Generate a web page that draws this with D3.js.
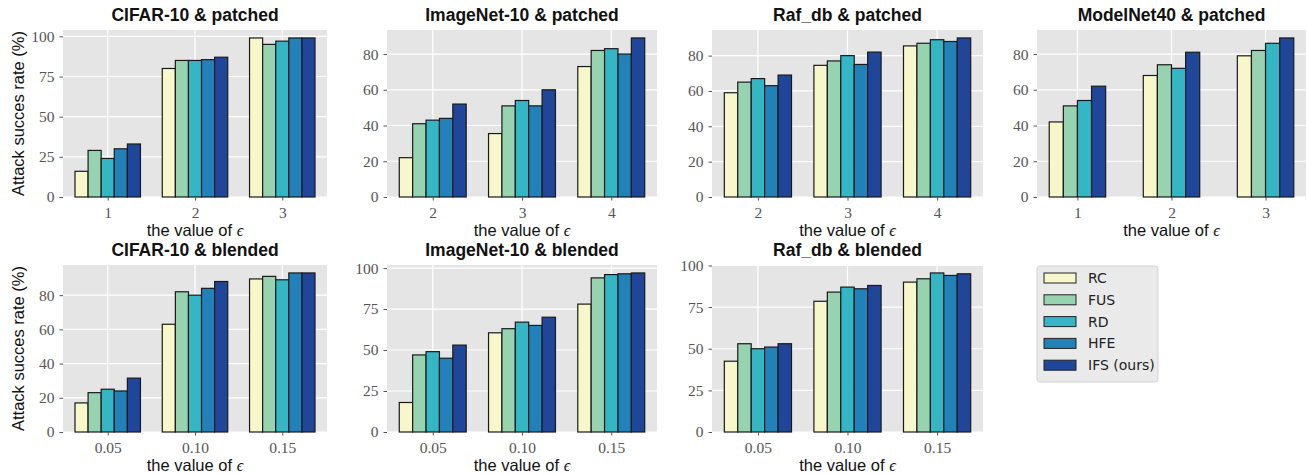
<!DOCTYPE html>
<html lang="en">
  <head>
    <meta charset="UTF-8" />
    <title>Attack success rate</title>
    <script src="https://d3js.org/d3.v7.min.js"></script>
    <style>
      body {
        margin: 0;
        background: #fff;
      }
      svg {
        display: block;
      }
      .axis text {
        font-family: "Liberation Serif", serif;
        font-size: 15.5px;
        fill: #555;
      }
      .axis line {
        stroke: #555;
      }
      .title {
        font-family: "Liberation Sans", sans-serif;
        font-weight: bold;
        font-size: 17.5px;
        fill: #111;
      }
      .label {
        font-family: "Liberation Sans", sans-serif;
        font-size: 16.5px;
        fill: #111;
      }
      .legend text {
        font-family: "DejaVu Sans", sans-serif;
        font-size: 14px;
        fill: #222;
      }
    </style>
  </head>
  <body>
    <svg id="chart" width="1307" height="475"></svg>

    <script>
      // methods and colours
      const methods = ["RC", "FUS", "RD", "HFE", "IFS (ours)"];
      const colors = ["#f7f7cb", "#97d3b0", "#35b6c5", "#2381ba", "#1f4698"];

      // x tick labels (epsilon)
      const patchedEps = ["1", "2", "3"];
      const imagenetPatchedEps = ["2", "3", "4"];
      const rafPatchedEps = ["2", "3", "4"];
      const blendedEps = ["0.05", "0.10", "0.15"];

      // values: one row per method (RC, FUS, RD, HFE, IFS), one column per epsilon
      const cifarPatched = [
        [16, 80, 99],
        [29, 85, 95],
        [24, 85, 97],
        [30, 85.5, 99],
        [33, 87, 99],
      ];
      const imagenetPatched = [
        [22, 35.5, 73],
        [41, 51, 82],
        [43, 54, 83],
        [44, 51, 80],
        [52, 60, 89],
      ];
      const rafPatched = [
        [59, 74.5, 85.5],
        [65, 77, 87],
        [67, 80, 89],
        [63, 75, 88],
        [69, 82, 90],
      ];
      const modelnetPatched = [
        [42, 68, 79],
        [51, 74, 82],
        [54, 72, 86],
        null, // no HFE result
        [62, 81, 89],
      ];
      const cifarBlended = [
        [17, 63, 89.5],
        [23, 82, 91],
        [25, 80, 89],
        [24, 84, 93],
        [31.5, 88, 93],
      ];
      const imagenetBlended = [
        [18, 60.5, 78],
        [47, 63, 94],
        [49, 67, 96],
        [45, 65, 96.5],
        [53, 70, 97],
      ];
      const rafBlended = [
        [42.5, 78.5, 90],
        [53, 84, 92],
        [50, 87, 95.5],
        [51, 86, 94],
        [53, 88, 95],
      ];

      // y tick labels
      const ticks25 = [0, 25, 50, 75, 100];
      const ticks20 = [0, 20, 40, 60, 80];

      const panels = [
        { title: "CIFAR-10 & patched", eps: patchedEps, values: cifarPatched, yTicks: ticks25, col: 0, row: 0 },
        { title: "ImageNet-10 & patched", eps: imagenetPatchedEps, values: imagenetPatched, yTicks: ticks20, col: 1, row: 0 },
        { title: "Raf_db & patched", eps: rafPatchedEps, values: rafPatched, yTicks: ticks20, col: 2, row: 0 },
        { title: "ModelNet40 & patched", eps: patchedEps, values: modelnetPatched, yTicks: ticks20, col: 3, row: 0 },
        { title: "CIFAR-10 & blended", eps: blendedEps, values: cifarBlended, yTicks: ticks20, col: 0, row: 1 },
        { title: "ImageNet-10 & blended", eps: blendedEps, values: imagenetBlended, yTicks: ticks25, col: 1, row: 1 },
        { title: "Raf_db & blended", eps: blendedEps, values: rafBlended, yTicks: ticks25, col: 2, row: 1 },
      ];

      // layout of the grid
      const colLeft = [63, 387, 712, 1037];
      const colRight = [327, 657, 983, 1306];
      const rowTop = [30, 265];
      const rowBottom = [197, 432];
      const barWidth = 0.15;

      const svg = d3.select("#chart");

      function drawPanel(p) {
        const x0 = colLeft[p.col],
          x1 = colRight[p.col];
        const y0 = rowTop[p.row],
          y1 = rowBottom[p.row];
        const g = svg.append("g");

        const series = p.values
          .map((v, i) => ({ method: methods[i], color: colors[i], v: v }))
          .filter((s) => s.v);
        const n = series.length;
        const half = (n * barWidth) / 2;
        const last = p.eps.length - 1;
        const pad = 0.05 * (last + 2 * half);

        const x = d3
          .scaleLinear()
          .domain([-half - pad, last + half + pad])
          .range([x0, x1]);
        const ymax = 1.05 * d3.max(series.flatMap((s) => s.v));
        const y = d3.scaleLinear().domain([0, ymax]).range([y1, y0]);

        // background
        g.append("rect")
          .attr("x", x0)
          .attr("y", y0)
          .attr("width", x1 - x0)
          .attr("height", y1 - y0)
          .attr("fill", "#e5e5e5");

        // grid
        g.selectAll(".hgrid")
          .data(p.yTicks)
          .join("line")
          .attr("x1", x0)
          .attr("x2", x1)
          .attr("y1", (d) => y(d))
          .attr("y2", (d) => y(d))
          .attr("stroke", "#fff")
          .attr("stroke-width", 1.2);
        g.selectAll(".vgrid")
          .data(d3.range(p.eps.length))
          .join("line")
          .attr("x1", (d) => x(d))
          .attr("x2", (d) => x(d))
          .attr("y1", y0)
          .attr("y2", y1)
          .attr("stroke", "#fff")
          .attr("stroke-width", 1.2);

        // bars
        series.forEach((s, j) => {
          const off = (j - (n - 1) / 2) * barWidth - barWidth / 2;
          g.append("g")
            .selectAll("rect")
            .data(s.v)
            .join("rect")
            .attr("x", (d, i) => x(i + off))
            .attr("y", (d) => y(d))
            .attr("width", x(barWidth) - x(0))
            .attr("height", (d) => y1 - y(d))
            .attr("fill", s.color)
            .attr("stroke", "#1a1a1a")
            .attr("stroke-width", 1.2);
        });

        // axes
        const yAxis = d3.axisLeft(y).tickValues(p.yTicks).tickSize(3.5).tickPadding(5);
        g.append("g")
          .attr("class", "axis")
          .attr("transform", `translate(${x0},0)`)
          .call(yAxis)
          .call((a) => a.select(".domain").remove());

        const xAxis = d3
          .axisBottom(x)
          .tickValues(d3.range(p.eps.length))
          .tickFormat((i) => p.eps[i])
          .tickSize(3.5)
          .tickPadding(6);
        g.append("g")
          .attr("class", "axis")
          .attr("transform", `translate(0,${y1})`)
          .call(xAxis)
          .call((a) => a.select(".domain").remove());

        // title
        g.append("text")
          .attr("class", "title")
          .attr("x", (x0 + x1) / 2)
          .attr("y", y0 - 9)
          .attr("text-anchor", "middle")
          .text(p.title);

        // x label
        const xl = g
          .append("text")
          .attr("class", "label")
          .attr("x", (x0 + x1) / 2)
          .attr("y", y1 + 39)
          .attr("text-anchor", "middle");
        xl.append("tspan").text("the value of ");
        xl.append("tspan")
          .attr("font-family", "Liberation Serif, serif")
          .attr("font-style", "italic")
          .text("ϵ");

        // y label
        if (p.col === 0) {
          g.append("text")
            .attr("class", "label")
            .attr("transform", `translate(24,${(y0 + y1) / 2}) rotate(-90)`)
            .attr("text-anchor", "middle")
            .text("Attack succes rate (%)");
        }
      }

      panels.forEach(drawPanel);

      // legend
      const legend = svg.append("g").attr("class", "legend");
      legend
        .append("rect")
        .attr("x", 1037)
        .attr("y", 266)
        .attr("width", 121)
        .attr("height", 116)
        .attr("rx", 3)
        .attr("fill", "#eaeaea")
        .attr("stroke", "#d2d2d2");
      const items = legend
        .selectAll(".item")
        .data(methods)
        .join("g")
        .attr("transform", (d, i) => `translate(1044,${278 + i * 21.8})`);
      items
        .append("rect")
        .attr("x", 0)
        .attr("y", -5)
        .attr("width", 32)
        .attr("height", 10)
        .attr("fill", (d, i) => colors[i])
        .attr("stroke", "#222")
        .attr("stroke-width", 1);
      items
        .append("text")
        .attr("x", 44)
        .attr("y", 0)
        .attr("dy", "0.36em")
        .text((d) => d);
    </script>
  </body>
</html>
